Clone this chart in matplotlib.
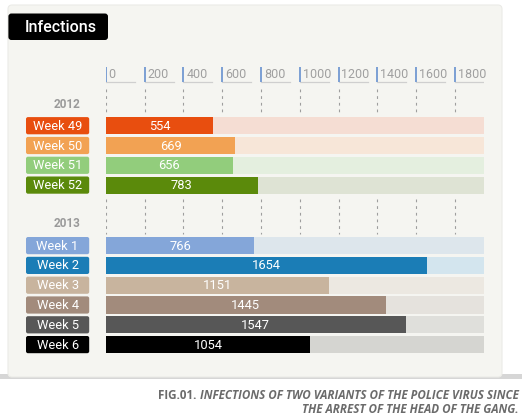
import matplotlib
matplotlib.use("Agg")
import matplotlib.pyplot as plt
from matplotlib.patches import FancyBboxPatch, Rectangle

# data
weeks_2012 = ["Week 49", "Week 50", "Week 51", "Week 52"]
values_2012 = [554, 669, 656, 783]
weeks_2013 = ["Week 1", "Week 2", "Week 3", "Week 4", "Week 5", "Week 6"]
values_2013 = [766, 1654, 1151, 1445, 1547, 1054]
ticks = [0, 200, 400, 600, 800, 1000, 1200, 1400, 1600, 1800]
track_max = 1950

colors_2012 = ["#e84e0f", "#f2a253", "#92cd7c", "#5b8a0b"]
tracks_2012 = ["#f5ddd3", "#f7e6d8", "#e4efdf", "#dee3d4"]
colors_2013 = ["#84a6d9", "#1b7db6", "#c8b49e", "#a28b7c", "#575757", "#000000"]
tracks_2013 = ["#dde6ec", "#d3e5ee", "#ece8e1", "#e5e2dd", "#dfdfdb", "#d5d5d1"]

FONT = "Roboto"
W, H = 530, 420
BAR_H = 17.2

fig = plt.figure(figsize=(W / 100, H / 100), dpi=100)
fig.patch.set_facecolor("white")

# background axes in pixel units
bg = fig.add_axes([0, 0, 1, 1])
bg.set_xlim(0, W)
bg.set_ylim(H, 0)
bg.axis("off")

# shadow + panel
bg.add_patch(Rectangle((0, 374), 522, 4.5, fc="#d6d6d6", ec="none", zorder=0))
bg.add_patch(FancyBboxPatch((8, 5), 494, 372, boxstyle="round,pad=0,rounding_size=4",
                            fc="#f5f5f1", ec="#ebebe7", lw=0.8, zorder=1))

# title box
bg.add_patch(FancyBboxPatch((8.4, 13.5), 99.6, 26.5, boxstyle="round,pad=0,rounding_size=3",
                            fc="black", ec="none", zorder=2))
bg.text(24.5, 27.5, "Infections", color="white", fontsize=11.5, fontweight="medium",
        family=FONT, va="center", ha="left", zorder=3)

# caption
r = fig.canvas.get_renderer()
cap_style = dict(color="#6b6b6b", fontsize=8.4, family="Open Sans", fontweight="bold",
                 va="center", zorder=3)
t1 = bg.text(518.5, 395.5, " INFECTIONS OF TWO VARIANTS OF THE POLICE VIRUS SINCE",
             ha="right", style="italic", **cap_style)
bb = t1.get_window_extent(renderer=r)
bg.text(bb.x0, 395.5, "FIG.01.", ha="right", **cap_style)
bg.text(518.5, 409.5, "THE ARREST OF THE HEAD OF THE GANG.", ha="right", style="italic",
        **cap_style)

# rows (pixel positions)
rows_2012 = [125.7 + 19.8 * i for i in range(len(weeks_2012))]
rows_2013 = [245.6 + 19.8 * i for i in range(len(weeks_2013))]

# year labels
bg.text(81, 105, "2012", color="#9a9a9a", fontsize=8.5, fontweight="bold", family=FONT,
        ha="right", va="center", zorder=3)
bg.text(81, 223.6, "2013", color="#9a9a9a", fontsize=8.5, fontweight="bold", family=FONT,
        ha="right", va="center", zorder=3)

# week label boxes
for labels, rows, cols in [(weeks_2012, rows_2012, colors_2012),
                           (weeks_2013, rows_2013, colors_2013)]:
    for lab, y, c in zip(labels, rows, cols):
        bg.add_patch(FancyBboxPatch((26, y - BAR_H / 2), 63.2, BAR_H,
                                    boxstyle="round,pad=0,rounding_size=2",
                                    fc=c, ec="none", zorder=2))
        bg.text(57.6, y + 0.5, lab, color="white", fontsize=9.3, family=FONT,
                ha="center", va="center", zorder=3)

# data axes: x in values, y in pixels
x0 = 105.7
px_per_unit = 0.194
x1 = x0 + track_max * px_per_unit
ax = fig.add_axes([x0 / W, 0, (x1 - x0) / W, 1])
ax.set_xlim(0, track_max)
ax.set_ylim(H, 0)
ax.axis("off")
ax.patch.set_alpha(0)

# tick markers and labels
for t in ticks:
    ax.plot([t, t], [66.5, 82], color="#7b9fd4", lw=1.4, solid_capstyle="butt", zorder=3)
    ax.plot([t, t + 29 / px_per_unit], [82, 82], color="#cfcfcf", lw=0.9, zorder=2)
    ax.text(t + 3 / px_per_unit, 74.5, str(t), color="#a0a0a0", fontsize=9, family=FONT,
            ha="left", va="center", zorder=3)

# dashed guides
ax.vlines(ticks, 88.5, 113, colors="#9e9e9e", linestyles=(0, (2.5, 3.5)), lw=0.8, zorder=1)
ax.vlines(ticks, 198.6, 233.8, colors="#9e9e9e", linestyles=(0, (2.5, 3.5)), lw=0.8, zorder=1)

# bars
for rows, vals, cols, trks in [(rows_2012, values_2012, colors_2012, tracks_2012),
                               (rows_2013, values_2013, colors_2013, tracks_2013)]:
    ax.barh(rows, [track_max] * len(rows), height=BAR_H, color=trks, zorder=2)
    ax.barh(rows, vals, height=BAR_H, color=cols, zorder=3)
    for y, v in zip(rows, vals):
        ax.text(v / 2, y + 0.5, str(v), color="white", fontsize=9.3, family=FONT,
                ha="center", va="center", zorder=4)

fig.savefig("out.png", dpi=100)
